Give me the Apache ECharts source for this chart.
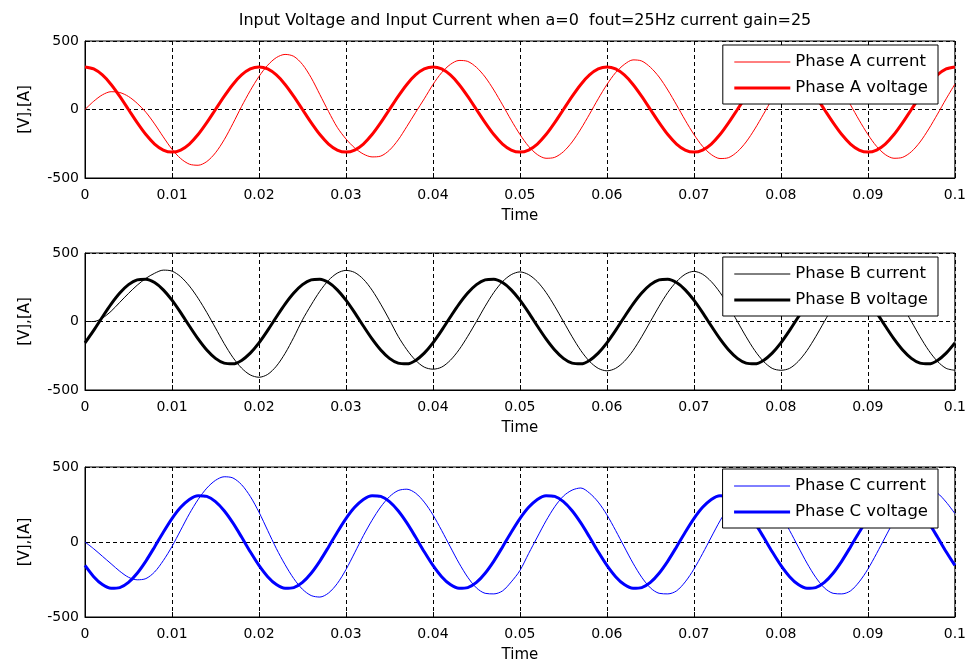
<!DOCTYPE html>
<html>
<head>
<meta charset="utf-8">
<title>Input Voltage and Input Current</title>
<script src="https://cdn.jsdelivr.net/npm/echarts@6/dist/echarts.min.js"></script>
<style>
  html, body { margin: 0; padding: 0; background: #fff; }
  #main { width: 969px; height: 668px; }
</style>
</head>
<body>
<div id="main"></div>
<script>
// sample times, one every millisecond from 0 to 0.1 s
var time = [];
for (var i = 0; i <= 100; i++) time.push(+(i * 0.001).toFixed(3));

var xTicks = [0, 0.01, 0.02, 0.03, 0.04, 0.05, 0.06, 0.07, 0.08, 0.09, 0.1];
var yTicks = [-500, 0, 500];

// values, one per millisecond
var phaseAVoltage = [
  311, 296, 252, 183, 96, 0, -96, -183, -252, -296, -311, -296, -252, -183, -96, 0, 96, 183, 252, 296,
  311, 296, 252, 183, 96, 0, -96, -183, -252, -296, -311, -296, -252, -183, -96, 0, 96, 183, 252, 296,
  311, 296, 252, 183, 96, 0, -96, -183, -252, -296, -311, -296, -252, -183, -96, 0, 96, 183, 252, 296,
  311, 296, 252, 183, 96, 0, -96, -183, -252, -296, -311, -296, -252, -183, -96, 0, 96, 183, 252, 296,
  311, 296, 252, 183, 96, 0, -96, -183, -252, -296, -311, -296, -252, -183, -96, 0, 96, 183, 252, 296,
  311
];
var phaseACurrent = [
  0, 60, 107, 130, 124, 95, 45, -20, -105, -200, -290, -358, -399, -407, -380, -316, -221, -103, 22, 138,
  241, 323, 379, 402, 388, 329, 232, 109, -15, -130, -215, -280, -325, -346, -340, -297, -222, -124, -22, 78,
  182, 269, 329, 358, 351, 308, 237, 142, 34, -78, -182, -269, -329, -356, -349, -308, -237, -142, -34, 78,
  182, 269, 329, 362, 354, 308, 237, 142, 34, -78, -182, -269, -329, -358, -351, -308, -237, -142, -34, 78,
  182, 269, 329, 356, 349, 308, 237, 142, 34, -78, -182, -269, -329, -356, -349, -308, -237, -142, -34, 78,
  185
];
var phaseBVoltage = [
  -156, -65, 33, 127, 208, 269, 304, 309, 284, 231, 156, 65, -33, -127, -208, -269, -304, -309, -284, -231,
  -156, -65, 33, 127, 208, 269, 304, 309, 284, 231, 156, 65, -33, -127, -208, -269, -304, -309, -284, -231,
  -156, -65, 33, 127, 208, 269, 304, 309, 284, 231, 156, 65, -33, -127, -208, -269, -304, -309, -284, -231,
  -156, -65, 33, 127, 208, 269, 304, 309, 284, 231, 156, 65, -33, -127, -208, -269, -304, -309, -284, -231,
  -156, -65, 33, 127, 208, 269, 304, 309, 284, 231, 156, 65, -33, -127, -208, -269, -304, -309, -284, -231,
  -156
];
var phaseBCurrent = [
  0, 0, 25, 75, 140, 205, 265, 315, 352, 375, 368, 327, 259, 170, 66, -47, -161, -262, -340, -390,
  -407, -386, -326, -233, -116, 12, 121, 221, 301, 353, 373, 358, 309, 229, 126, 12, -108, -206, -283, -333,
  -348, -333, -283, -206, -108, 0, 111, 212, 291, 342, 362, 342, 291, 212, 111, 0, -111, -212, -291, -342,
  -360, -342, -291, -212, -111, 0, 111, 212, 291, 345, 366, 345, 291, 212, 111, 0, -111, -212, -291, -342,
  -356, -342, -291, -212, -111, 0, 111, 212, 291, 342, 360, 342, 291, 212, 111, 0, -111, -212, -291, -342,
  -356
];
var phaseCVoltage = [
  -156, -231, -284, -309, -304, -269, -208, -127, -33, 65, 156, 231, 284, 309, 304, 269, 208, 127, 33, -65,
  -156, -231, -284, -309, -304, -269, -208, -127, -33, 65, 156, 231, 284, 309, 304, 269, 208, 127, 33, -65,
  -156, -231, -284, -309, -304, -269, -208, -127, -33, 65, 156, 231, 284, 309, 304, 269, 208, 127, 33, -65,
  -156, -231, -284, -309, -304, -269, -208, -127, -33, 65, 156, 231, 284, 309, 304, 269, 208, 127, 33, -65,
  -156, -231, -284, -309, -304, -269, -208, -127, -33, 65, 156, 231, 284, 309, 304, 269, 208, 127, 33, -65,
  -156
];
var phaseCCurrent = [
  0, -45, -95, -145, -195, -235, -252, -244, -200, -124, -30, 79, 188, 283, 359, 411, 435, 427, 382, 304,
  199, 77, -44, -151, -244, -315, -357, -367, -340, -277, -184, -72, 42, 145, 234, 302, 343, 352, 326, 266,
  181, 77, -33, -141, -235, -306, -342, -346, -326, -266, -190, -77, 33, 141, 235, 306, 346, 360, 326, 266,
  181, 77, -33, -141, -235, -306, -342, -346, -326, -266, -181, -77, 33, 141, 235, 306, 346, 353, 326, 266,
  181, 77, -33, -141, -235, -306, -342, -346, -326, -266, -181, -77, 33, 141, 235, 306, 346, 353, 326, 266,
  190
];

var titleText = 'Input Voltage and Input Current when a=0  fout=25Hz current gain=25';
var legendNames = [
  ['Phase A current', 'Phase A voltage'],
  ['Phase B current', 'Phase B voltage'],
  ['Phase C current', 'Phase C voltage']
];
var phaseColors = ['#ff0000', '#000000', '#0000ff'];

var font = '"DejaVu Sans", Arial, sans-serif';
var grids = [
  { left: 85, width: 871, top: 41, height: 137 },
  { left: 85, width: 871, top: 253, height: 137 },
  { left: 85, width: 871, top: 467, height: 150 }
];
var legendTops = [45, 257, 469];

function pairs(values) {
  return time.map(function (t, k) { return [t, values[k]]; });
}

var currents = [phaseACurrent, phaseBCurrent, phaseCCurrent];
var voltages = [phaseAVoltage, phaseBVoltage, phaseCVoltage];

var option = {
  backgroundColor: '#fff',
  animation: false,
  title: {
    text: titleText,
    left: 520,
    textAlign: 'center',
    top: 8,
    textStyle: { fontFamily: font, fontSize: 16, fontWeight: 'normal', color: '#000' }
  },
  grid: grids.map(function (g) {
    return Object.assign({ show: true, borderColor: '#000', borderWidth: 1, backgroundColor: '#fff' }, g);
  }),
  xAxis: grids.map(function (g, i) {
    return {
      type: 'value', gridIndex: i,
      min: xTicks[0], max: xTicks[xTicks.length - 1], interval: 0.01,
      name: 'Time', nameLocation: 'middle', nameGap: 31,
      nameTextStyle: { fontFamily: font, fontSize: 15, color: '#000' },
      axisLine: { show: true, onZero: false, lineStyle: { color: '#000', width: 1 } },
      axisTick: { show: true, inside: true, length: 5, lineStyle: { color: '#000' } },
      axisLabel: {
        margin: 10, color: '#000', fontFamily: font, fontSize: 14,
        formatter: function (v) { return String(+v.toFixed(2)); }
      },
      splitLine: { show: true, lineStyle: { color: '#000', width: 1, type: [4, 3] } }
    };
  }),
  yAxis: grids.map(function (g, i) {
    return {
      type: 'value', gridIndex: i,
      min: yTicks[0], max: yTicks[yTicks.length - 1], interval: 500,
      name: '[V],[A]', nameLocation: 'middle', nameGap: 52, nameRotate: 90,
      nameTextStyle: { fontFamily: font, fontSize: 15, color: '#000' },
      axisLine: { show: true, onZero: false, lineStyle: { color: '#000', width: 1 } },
      axisTick: { show: true, inside: true, length: 5, lineStyle: { color: '#000' } },
      axisLabel: { margin: 6, color: '#000', fontFamily: font, fontSize: 14 },
      splitLine: { show: true, lineStyle: { color: '#000', width: 1, type: [4, 3] } }
    };
  }),
  legend: legendNames.map(function (names, i) {
    return {
      data: [
        { name: names[0], lineStyle: { width: 1, color: phaseColors[i] }, itemStyle: { opacity: 0 } },
        { name: names[1], lineStyle: { width: 3, color: phaseColors[i] }, itemStyle: { opacity: 0 } }
      ],
      orient: 'vertical',
      right: 31,
      top: legendTops[i],
      backgroundColor: '#fff',
      borderColor: '#000',
      borderWidth: 1,
      borderRadius: 0,
      padding: [7, 10, 6, 10],
      itemGap: 6,
      itemWidth: 56,
      itemHeight: 14,
      selectedMode: false,
      textStyle: { fontFamily: font, fontSize: 16.5, color: '#000', lineHeight: 20 }
    };
  }),
  series: []
};

for (var p = 0; p < 3; p++) {
  option.series.push({
    name: legendNames[p][0], type: 'line',
    xAxisIndex: p, yAxisIndex: p,
    data: pairs(currents[p]),
    symbol: 'none', showSymbol: false, smooth: 0.3,
    lineStyle: { color: phaseColors[p], width: 1 },
    itemStyle: { color: phaseColors[p] }
  });
  option.series.push({
    name: legendNames[p][1], type: 'line',
    xAxisIndex: p, yAxisIndex: p,
    data: pairs(voltages[p]),
    symbol: 'none', showSymbol: false, smooth: 0.3,
    lineStyle: { color: phaseColors[p], width: 3 },
    itemStyle: { color: phaseColors[p] }
  });
}

var chart = echarts.init(document.getElementById('main'));
chart.setOption(option);
</script>
</body>
</html>
